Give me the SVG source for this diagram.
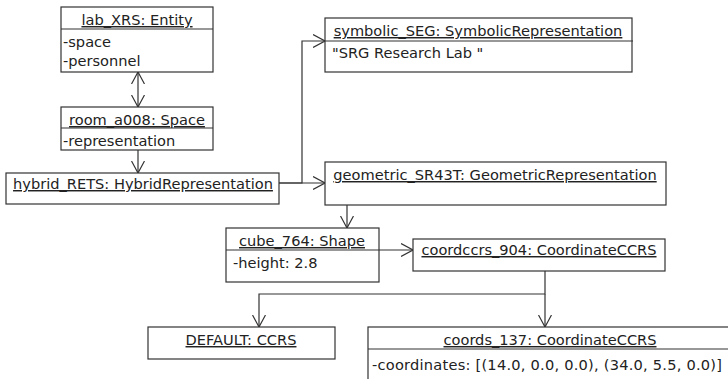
<svg xmlns="http://www.w3.org/2000/svg" width="728" height="379" viewBox="0 0 728 379">
<defs>
<style>
rect.box{fill:#fff;stroke:#333;stroke-width:1.2}
line.div{stroke:#333;stroke-width:1.2}
text{font-family:"DejaVu Sans","Liberation Sans",sans-serif;font-size:14.6px;fill:#222}
text.t{text-decoration:underline;text-anchor:middle}
.c{fill:none;stroke:#333;stroke-width:1.2}
</style>
<marker id="ah" viewBox="0 0 12 14" refX="12" refY="7" markerWidth="12" markerHeight="14" markerUnits="userSpaceOnUse" orient="auto-start-reverse">
<path d="M0,0.5 L12,7 L0,13.5" fill="none" stroke="#333" stroke-width="1.2"/>
</marker>
</defs>
<rect width="728" height="379" fill="#fff"/>
<g id="connectors">
<line class="c" x1="138" y1="72" x2="138" y2="107" marker-start="url(#ah)" marker-end="url(#ah)"/>
<line class="c" x1="138" y1="150" x2="138" y2="173" marker-end="url(#ah)"/>
<polyline class="c" points="279,183 325,183" marker-end="url(#ah)"/>
<polyline class="c" points="279,183 302,183 302,41 325,41" marker-end="url(#ah)"/>
<line class="c" x1="347" y1="205" x2="347" y2="228" marker-end="url(#ah)"/>
<line class="c" x1="379" y1="250" x2="413" y2="250" marker-end="url(#ah)"/>
<polyline class="c" points="545,271 545,294 259,294 259,327" marker-end="url(#ah)"/>
<line class="c" x1="545" y1="294" x2="545" y2="327" marker-end="url(#ah)"/>
</g>
<g id="lab_XRS">
<rect class="box" x="61" y="7" width="152" height="65"/>
<line class="div" x1="61" y1="29" x2="213" y2="29"/>
<text class="t" x="137" y="25">lab_XRS: Entity</text>
<text x="63" y="47">-space</text>
<text x="63" y="66">-personnel</text>
</g>
<g id="room_a008">
<rect class="box" x="61" y="107" width="152" height="43"/>
<line class="div" x1="61" y1="128" x2="213" y2="128"/>
<text class="t" x="137" y="125">room_a008: Space</text>
<text x="63" y="146">-representation</text>
</g>
<g id="hybrid_RETS">
<rect class="box" x="6" y="173" width="273" height="31"/>
<text class="t" x="143" y="189">hybrid_RETS: HybridRepresentation</text>
</g>
<g id="symbolic_SEG">
<rect class="box" x="325" y="18" width="307" height="54"/>
<line class="div" x1="325" y1="41" x2="633" y2="41"/>
<text class="t" x="478" y="36">symbolic_SEG: SymbolicRepresentation</text>
<text x="332" y="58">"SRG Research Lab "</text>
</g>
<g id="geometric_SR43T">
<rect class="box" x="325" y="162" width="341" height="43"/>
<text class="t" x="495" y="180">geometric_SR43T: GeometricRepresentation</text>
</g>
<g id="cube_764">
<rect class="box" x="226" y="228" width="153" height="54"/>
<line class="div" x1="226" y1="250" x2="379" y2="250"/>
<text class="t" x="302" y="246">cube_764: Shape</text>
<text x="233" y="268">-height: 2.8</text>
</g>
<g id="coordccrs_904">
<rect class="box" x="413" y="239" width="252" height="32"/>
<text class="t" x="539" y="255">coordccrs_904: CoordinateCCRS</text>
</g>
<g id="DEFAULT">
<rect class="box" x="148" y="327" width="187" height="32"/>
<text class="t" x="241" y="345">DEFAULT: CCRS</text>
</g>
<g id="coords_137">
<rect class="box" x="368" y="327" width="364" height="60"/>
<line class="div" x1="368" y1="349" x2="728" y2="349"/>
<text class="t" x="550" y="345">coords_137: CoordinateCCRS</text>
<text x="372" y="370" textLength="350" lengthAdjust="spacing">-coordinates: [(14.0, 0.0, 0.0), (34.0, 5.5, 0.0)]</text>
</g>
</svg>
